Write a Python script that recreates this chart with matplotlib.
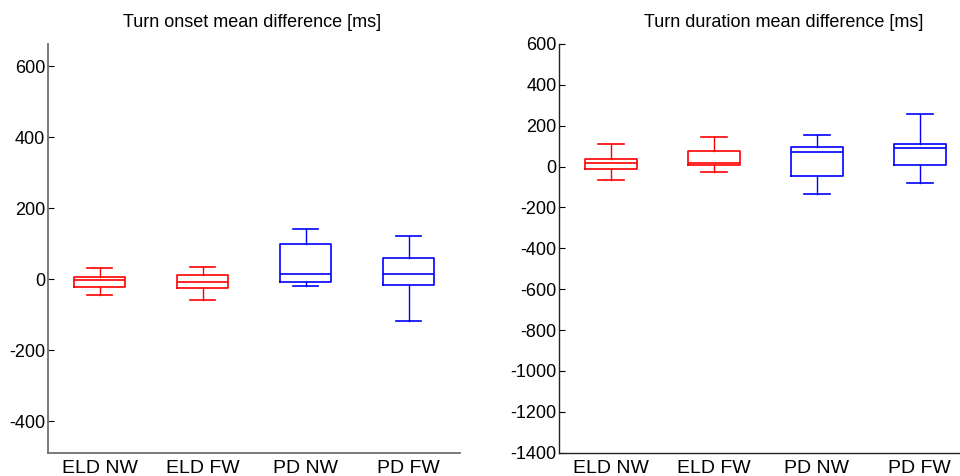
import matplotlib
matplotlib.use("Agg")
import matplotlib.pyplot as plt

plt.rcParams['font.family'] = ['Liberation Sans', 'DejaVu Sans']
plt.rcParams['axes.unicode_minus'] = False

groups = ['ELD NW', 'ELD FW', 'PD NW', 'PD FW']
group_colors = ['#ff0000', '#ff0000', '#0000ff', '#0000ff']

# turn onset mean difference [ms]
onset_whislo = [-43, -58, -19, -118]
onset_q1 = [-22, -24, -6, -17]
onset_med = [-1, -7, 15, 15]
onset_q3 = [7, 13, 101, 61]
onset_whishi = [33, 36, 142, 121]

# turn duration mean difference [ms]
dur_whislo = [-68, -26, -135, -78]
dur_q1 = [-13, 8, -44, 8]
dur_med = [16, 20, 70, 93]
dur_q3 = [36, 77, 95, 109]
dur_whishi = [109, 147, 155, 259]


def make_stats(lo, q1, med, q3, hi):
    return [dict(whislo=a, q1=b, med=c, q3=d, whishi=e, fliers=[])
            for a, b, c, d, e in zip(lo, q1, med, q3, hi)]


def draw_boxes(ax, stats):
    res = ax.bxp(stats, positions=range(1, 5), widths=0.5, capwidths=0.25,
                 showfliers=False)
    for i, c in enumerate(group_colors):
        res['boxes'][i].set(color=c, linewidth=1.2)
        res['medians'][i].set(color=c, linewidth=1.2)
        for k in (2 * i, 2 * i + 1):
            res['whiskers'][k].set(color=c, linewidth=1.0)
            res['caps'][k].set(color=c, linewidth=1.2)
    ax.set_xlim(0.5, 4.5)
    ax.set_xticks(range(1, 5))
    ax.set_xticklabels(groups)
    for s in ('top', 'right'):
        ax.spines[s].set_visible(False)
    ax.tick_params(axis='x', length=0, pad=5, labelsize=14)
    ax.tick_params(axis='y', direction='in', length=4, pad=2, labelsize=13)


fig = plt.figure(figsize=(9.6, 4.76), dpi=100)
ax1 = fig.add_axes([0.05, 0.049, 0.4292, 0.8586])
ax2 = fig.add_axes([0.5826, 0.049, 0.4292, 0.8586])

draw_boxes(ax1, make_stats(onset_whislo, onset_q1, onset_med, onset_q3, onset_whishi))
ax1.set_ylim(-488, 663)
ax1.set_yticks([-400, -200, 0, 200, 400, 600])
for s in ('left', 'bottom'):
    ax1.spines[s].set(color='#707070', linewidth=1.3)

draw_boxes(ax2, make_stats(dur_whislo, dur_q1, dur_med, dur_q3, dur_whishi))
ax2.set_ylim(-1400, 600)
ax2.set_yticks(range(-1400, 601, 200))
for s in ('left', 'bottom'):
    ax2.spines[s].set(color='#222222', linewidth=1.0)

fig.text(252 / 960, 1 - 22.5 / 476, 'Turn onset mean difference [ms]',
         ha='center', va='center', fontsize=13)
fig.text(784 / 960, 1 - 22.5 / 476, 'Turn duration mean difference [ms]',
         ha='center', va='center', fontsize=13)

fig.savefig('out.png', dpi=100)
